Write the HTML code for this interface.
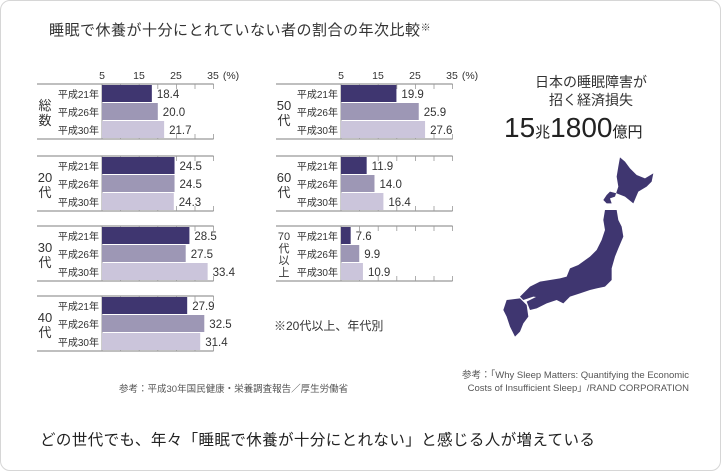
<!DOCTYPE html>
<html><head><meta charset="utf-8"><style>
body{margin:0;width:721px;height:471px;background:#fff;font-family:"Liberation Sans","Noto Sans CJK JP",sans-serif;color:#333;position:relative;overflow:hidden}
.card{position:absolute;left:0;top:0;width:719px;height:469px;border:1px solid #d6d6d6;border-radius:10px}
.a{position:absolute;white-space:nowrap}
</style></head><body>
<div class="card"></div>
<div class="a" style="left:49px;top:19px;font-size:15px;letter-spacing:0.5px;color:#333">睡眠で休養が十分にとれていない者の割合の年次比較<span style="font-size:10px;vertical-align:top">※</span></div>
<svg width="721" height="471" style="position:absolute;left:0;top:0" font-family="Liberation Sans, Noto Sans CJK JP, sans-serif">
<g fill="#333">
<g font-size="10.5" text-anchor="middle">
<text x="102" y="79">5</text><text x="139" y="79">15</text><text x="176" y="79">25</text><text x="213" y="79">35</text><text x="231" y="79">(%)</text>
<text x="341" y="79">5</text><text x="378" y="79">15</text><text x="415" y="79">25</text><text x="452" y="79">35</text><text x="470" y="79">(%)</text>
</g>
</g>
<g id="panels"></g>
<g transform="translate(490,150) scale(0.3333)" fill="#3f3670">
<polygon points="390,22 405,35 420,55 440,75 465,85 490,70 485,95 470,110 445,125 430,160 405,140 380,130 360,125 350,135 340,150 350,160 365,160 360,145 375,140 385,110 380,80 385,50"/>
<polygon points="345,180 380,180 385,210 395,230 400,260 385,295 375,320 365,355 365,390 345,410 320,415 300,420 270,430 240,440 220,460 200,450 170,445 130,440 100,450 90,440 120,410 150,395 180,390 210,385 230,380 240,355 265,345 300,320 320,300 335,270 345,240 340,210"/>
<polygon points="110,455 150,435 190,430 200,450 170,460 140,475 120,480"/>
<polygon points="50,450 90,445 110,465 115,500 100,520 90,545 75,560 60,530 50,500 40,480"/>
</g>
</svg>
<div class="a" style="left:516px;top:73px;font-size:14px;text-align:center;width:150px;line-height:18px">日本の睡眠障害が<br>招く経済損失</div>
<div class="a" style="left:504px;top:112px;font-size:28px;color:#222">15<span style="font-size:15px">兆</span>1800<span style="font-size:15px">億円</span></div>
<div class="a" style="left:274px;top:317px;font-size:12px">※20代以上、年代別</div>
<div class="a" style="left:119px;top:381px;font-size:9.5px;color:#555">参考：平成30年国民健康・栄養調査報告／厚生労働省</div>
<div class="a" style="left:462px;top:369px;font-size:9.5px;color:#555;text-align:right;line-height:13px">参考：「Why Sleep Matters: Quantifying the Economic<br>Costs of Insufficient Sleep」/RAND CORPORATION</div>
<div class="a" style="left:40px;top:428px;font-size:15.5px;color:#222;letter-spacing:0.4px">どの世代でも、年々「睡眠で休養が十分にとれない」と感じる人が増えている</div>
<script>
var groups=[
 [37,102,84,['総','数'],[18.4,20.0,21.7]],
 [37,102,156,['20','代'],[24.5,24.5,24.3]],
 [37,102,226,['30','代'],[28.5,27.5,33.4]],
 [37,102,296,['40','代'],[27.9,32.5,31.4]],
 [276,341,84,['50','代'],[19.9,25.9,27.6]],
 [276,341,156,['60','代'],[11.9,14.0,16.4]],
 [276,341,226,['70','代','以','上'],[7.6,9.9,10.9]]];
var cols=['#3f3670','#9d97b5','#cbc5db'],yrs=['平成21年','平成26年','平成30年'];
var s='',k=3.72;
groups.forEach(function(g){
 var x0=g[0],ax=g[1],y=g[2],end=ax+30*k;
 s+='<line x1="'+x0+'" y1="'+y+'" x2="'+end+'" y2="'+y+'" stroke="#999" stroke-width="1.2"/>';
 s+='<line x1="'+x0+'" y1="'+(y+55)+'" x2="'+end+'" y2="'+(y+55)+'" stroke="#999" stroke-width="1.2"/>';
 s+='<line x1="'+ax+'" y1="'+y+'" x2="'+ax+'" y2="'+(y+55)+'" stroke="#999" stroke-width="1"/>';
 for(var t=1;t<=6;t++){var tx=ax+t*5*k;s+='<line x1="'+tx+'" y1="'+y+'" x2="'+tx+'" y2="'+(y+5)+'" stroke="#999" stroke-width="0.8"/><line x1="'+tx+'" y1="'+(y+50)+'" x2="'+tx+'" y2="'+(y+55)+'" stroke="#999" stroke-width="0.8"/>';}
 for(var i=0;i<3;i++){var by=y+1+i*18,w=(g[4][i]-5)*k;
  s+='<rect x="'+ax+'" y="'+by+'" width="'+w+'" height="17" fill="'+cols[i]+'"/>';
  s+='<text x="'+(ax-3)+'" y="'+(by+13)+'" font-size="10" text-anchor="end" fill="#333">'+yrs[i]+'</text>';
  s+='<text x="'+(ax+w+5)+'" y="'+(by+13)+'" font-size="11.5" fill="#333">'+g[4][i].toFixed(1)+'</text>';}
 var lab=g[3],n=lab.length,lh=n>2?12:15,sy=y+28-(n*lh)/2+lh-2;
 lab.forEach(function(c,j){s+='<text x="'+(x0+8)+'" y="'+(sy+j*lh)+'" font-size="'+(n>2?11:13)+'" text-anchor="middle" fill="#333">'+c+'</text>';});
});
document.getElementById('panels').innerHTML=s;
</script>
</body></html>
